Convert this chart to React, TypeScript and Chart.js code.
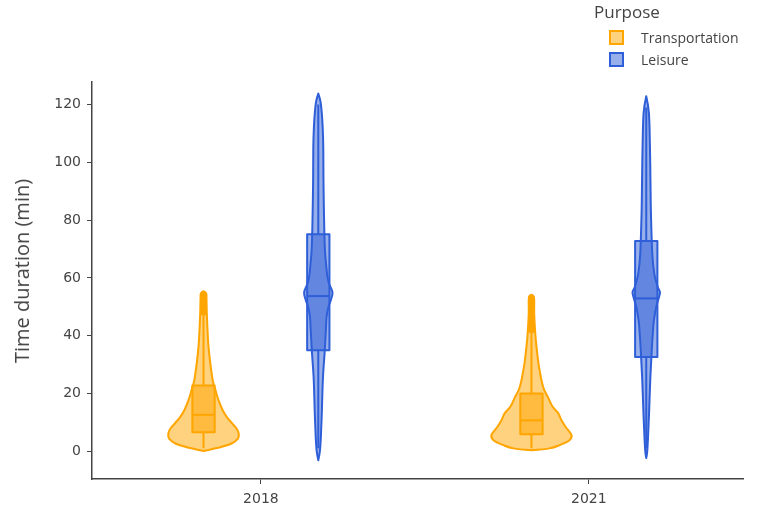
import React, { useEffect, useRef } from 'react';
import { Chart, registerables } from 'chart.js';

Chart.register(...registerables);

// ---- data ----
const years = ['2018', '2021'];
const purposes = ['Transportation', 'Leisure'];
const purposeColors = ['#FFA500', '#2F5FD8'];
const yTickValues = [0, 20, 40, 60, 80, 100, 120];
const yAxisTitle = 'Time duration (min)';
const legendTitle = 'Purpose';

// Kernel density outlines: duration (min) and relative density
const transport2018Values = [0.1, 1.5, 2.6, 4.4, 6.1, 7.8, 9.6, 11.9, 14.2, 17.7, 21.1, 24.6, 30.4, 36.2, 42, 47.7, 52.3, 54.6, 55.4];
const transport2018Density = [0, 0.44, 0.69, 0.86, 0.88, 0.83, 0.72, 0.58, 0.48, 0.375, 0.3, 0.23, 0.17, 0.125, 0.1, 0.083, 0.075, 0.068, 0];

const transport2021Values = [0.35, 1.0, 2.1, 3.8, 5.6, 8.5, 10.7, 13.1, 15.5, 18.8, 21.5, 24.6, 27.5, 30.4, 36.2, 40.8, 47.7, 53.0, 54.2];
const transport2021Density = [0, 0.45, 0.7, 0.95, 1.0, 0.85, 0.75, 0.67, 0.525, 0.41, 0.31, 0.25, 0.21, 0.175, 0.125, 0.095, 0.068, 0.065, 0];

const leisure2018Values = [-3.1, 0, 5, 13, 25, 35, 42, 46.5, 50, 52.3, 55, 58, 60.3, 64, 70, 80, 93, 105, 112, 117, 121, 123.8];
const leisure2018Density = [0, 0.04, 0.065, 0.0875, 0.115, 0.1625, 0.19, 0.2075, 0.255, 0.3125, 0.355, 0.27, 0.23, 0.2, 0.165, 0.145, 0.13, 0.125, 0.11, 0.0875, 0.055, 0];

const leisure2021Values = [-2.3, 0, 5, 13.1, 24.6, 35, 42, 45.4, 50, 53, 55.1, 57, 61.5, 68.4, 82.2, 93.8, 105.3, 116.9, 122.9];
const leisure2021Density = [0, 0.025, 0.045, 0.07, 0.1, 0.1375, 0.17, 0.1925, 0.25, 0.3125, 0.3425, 0.2825, 0.2, 0.15, 0.1175, 0.105, 0.0925, 0.0675, 0];

// Box statistics: lower whisker, Q1, median, Q3, upper whisker
const transport2018Box = [1, 6.6, 12.6, 22.8, 47];
const transport2021Box = [1, 5.9, 10.7, 20.0, 41];
const leisure2018Box = [1, 35.0, 53.7, 75.1, 120];
const leisure2021Box = [1, 32.6, 52.9, 72.8, 119];

// Points beyond the upper fence
const transport2018Outliers = [48, 49, 50, 51, 52, 53, 54];
const transport2021Outliers = [42, 43, 44, 45, 46, 47, 48, 49, 50, 51, 52, 53];
const leisure2018Outliers: number[] = [];
const leisure2021Outliers: number[] = [];

// ---- layout constants (category units on the x scale) ----
const GROUP_OFFSET = 0.175;
const VIOLIN_SCALE = 0.122;
const BOX_HALF = 0.034;

type Violin = {
  year: number;
  purpose: number;
  values: number[];
  density: number[];
  box: number[];
};

const violins: Violin[] = [
  { year: 0, purpose: 0, values: transport2018Values, density: transport2018Density, box: transport2018Box },
  { year: 0, purpose: 1, values: leisure2018Values, density: leisure2018Density, box: leisure2018Box },
  { year: 1, purpose: 0, values: transport2021Values, density: transport2021Density, box: transport2021Box },
  { year: 1, purpose: 1, values: leisure2021Values, density: leisure2021Density, box: leisure2021Box },
];

const outlierSets = [
  [transport2018Outliers, transport2021Outliers],
  [leisure2018Outliers, leisure2021Outliers],
];

function centerOf(year: number, purpose: number) {
  return year + (purpose === 0 ? -GROUP_OFFSET : GROUP_OFFSET);
}

function withAlpha(hex: string, a: number) {
  const r = parseInt(hex.slice(1, 3), 16);
  const g = parseInt(hex.slice(3, 5), 16);
  const b = parseInt(hex.slice(5, 7), 16);
  return `rgba(${r},${g},${b},${a})`;
}

type P = { x: number; y: number; sharp?: boolean };

// Closed outline through the points with smooth cubic segments
function smoothClosed(ctx: CanvasRenderingContext2D, pts: P[]) {
  const n = pts.length;
  const tan = pts.map((p, i) => {
    if (p.sharp) return { x: 0, y: 0 };
    const a = pts[(i - 1 + n) % n];
    const b = pts[(i + 1) % n];
    return { x: (b.x - a.x) / 6, y: (b.y - a.y) / 6 };
  });
  ctx.moveTo(pts[0].x, pts[0].y);
  for (let i = 0; i < n; i++) {
    const j = (i + 1) % n;
    ctx.bezierCurveTo(
      pts[i].x + tan[i].x, pts[i].y + tan[i].y,
      pts[j].x - tan[j].x, pts[j].y - tan[j].y,
      pts[j].x, pts[j].y
    );
  }
  ctx.closePath();
}

const violinPlugin = {
  id: 'violinShapes',
  beforeDatasetsDraw(chart: any) {
    const { ctx, chartArea } = chart;
    const xs = chart.scales.x;
    const ys = chart.scales.y;
    ctx.save();
    ctx.beginPath();
    ctx.rect(chartArea.left, chartArea.top, chartArea.right - chartArea.left, chartArea.bottom - chartArea.top);
    ctx.clip();
    violins.forEach((v) => {
      const c = centerOf(v.year, v.purpose);
      const color = purposeColors[v.purpose];
      const last = v.values.length - 1;
      const right: P[] = v.values.map((val, i) => ({
        x: xs.getPixelForValue(c + v.density[i] * VIOLIN_SCALE),
        y: ys.getPixelForValue(val),
        sharp: i === 0 || i === last,
      }));
      const left: P[] = [];
      for (let i = last - 1; i >= 1; i--) {
        left.push({ x: xs.getPixelForValue(c - v.density[i] * VIOLIN_SCALE), y: ys.getPixelForValue(v.values[i]) });
      }
      const pts = [...right, ...left];
      ctx.beginPath();
      smoothClosed(ctx, pts);
      ctx.fillStyle = withAlpha(color, 0.5);
      ctx.fill();
      ctx.lineWidth = 2;
      ctx.lineJoin = 'round';
      ctx.strokeStyle = color;
      ctx.stroke();

      // inner box plot
      const [lo, q1, med, q3, hi] = v.box;
      const cx = xs.getPixelForValue(c);
      const bl = xs.getPixelForValue(c - BOX_HALF);
      const br = xs.getPixelForValue(c + BOX_HALF);
      ctx.beginPath();
      ctx.moveTo(cx, ys.getPixelForValue(lo));
      ctx.lineTo(cx, ys.getPixelForValue(q1));
      ctx.moveTo(cx, ys.getPixelForValue(q3));
      ctx.lineTo(cx, ys.getPixelForValue(hi));
      ctx.stroke();
      const yt = ys.getPixelForValue(q3);
      const yb = ys.getPixelForValue(q1);
      ctx.beginPath();
      ctx.rect(bl, yt, br - bl, yb - yt);
      ctx.fillStyle = withAlpha(color, 0.5);
      ctx.fill();
      ctx.stroke();
      ctx.beginPath();
      const ym = ys.getPixelForValue(med);
      ctx.moveTo(bl, ym);
      ctx.lineTo(br, ym);
      ctx.stroke();
    });
    ctx.restore();
  },
};

export default function App() {
  const canvasRef = useRef<HTMLCanvasElement | null>(null);

  useEffect(() => {
    if (!canvasRef.current) return;
    const datasets = purposes.map((name, p) => ({
      type: 'scatter' as const,
      label: name,
      data: outlierSets[p].flatMap((list, yr) => list.map((val) => ({ x: centerOf(yr, p), y: val }))),
      backgroundColor: purposeColors[p],
      borderColor: purposeColors[p],
      borderWidth: 0,
      pointRadius: 3.3,
    }));
    const chart = new Chart(canvasRef.current, {
      type: 'scatter',
      data: { datasets },
      plugins: [violinPlugin],
      options: {
        animation: false,
        responsive: false,
        layout: { padding: { top: 82, right: 14, left: 0, bottom: 0 } },
        plugins: { legend: { display: false }, tooltip: { enabled: false } },
        scales: {
          x: {
            type: 'linear',
            min: -0.515,
            max: 1.47,
            afterBuildTicks: (scale: any) => {
              scale.ticks = years.map((_, i) => ({ value: i }));
            },
            afterFit: (scale: any) => {
              scale.height = 31;
            },
            ticks: {
              callback: (val: any) => years[Math.round(Number(val))] ?? '',
              color: '#444',
              padding: 7,
              maxRotation: 0,
              font: { family: 'DejaVu Sans', size: 14 },
            },
            grid: { display: true, drawOnChartArea: false, drawTicks: true, tickLength: 5, color: '#444', lineWidth: 1 },
            border: { display: true, color: '#444', width: 1.5 },
          },
          y: {
            type: 'linear',
            min: -9.6,
            max: 127.8,
            afterBuildTicks: (scale: any) => {
              scale.ticks = yTickValues.map((v) => ({ value: v }));
            },
            afterFit: (scale: any) => {
              scale.width = 92;
            },
            ticks: {
              color: '#444',
              padding: 6,
              font: { family: 'DejaVu Sans', size: 14 },
            },
            grid: { display: true, drawOnChartArea: false, drawTicks: true, tickLength: 5, color: '#444', lineWidth: 1 },
            border: { display: true, color: '#444', width: 1.5 },
          },
        },
      },
    } as any);
    return () => chart.destroy();
  }, []);

  return (
    <div style={{ position: 'absolute', left: 0, top: 0, width: 757, height: 510, background: '#fff' }}>
      <canvas ref={canvasRef} width={757} height={510} style={{ display: 'block' }} />
      <div
        style={{
          position: 'absolute',
          left: 22,
          top: 271,
          transform: 'translate(-50%, -50%) rotate(-90deg)',
          fontFamily: 'Open Sans',
          fontSize: 20,
          lineHeight: '24px',
          color: '#444',
          whiteSpace: 'nowrap',
        }}
      >
        {yAxisTitle}
      </div>
      <div style={{ position: 'absolute', left: 594, top: 0, fontFamily: 'Open Sans', color: '#444' }}>
        <div style={{ fontSize: 17, lineHeight: '24px' }}>{legendTitle}</div>
      </div>
      {purposes.map((name, p) => (
        <div
          key={name}
          style={{
            position: 'absolute',
            left: 609,
            top: 29 + p * 22,
            height: 16,
            display: 'flex',
            alignItems: 'center',
            fontFamily: 'Open Sans',
            fontSize: 14,
            color: '#444',
            whiteSpace: 'nowrap',
          }}
        >
          <span
            style={{
              display: 'inline-block',
              boxSizing: 'border-box',
              width: 15,
              height: 15,
              border: `2px solid ${purposeColors[p]}`,
              background: withAlpha(purposeColors[p], 0.5),
              marginRight: 17,
            }}
          />
          <span>{name}</span>
        </div>
      ))}
    </div>
  );
}
